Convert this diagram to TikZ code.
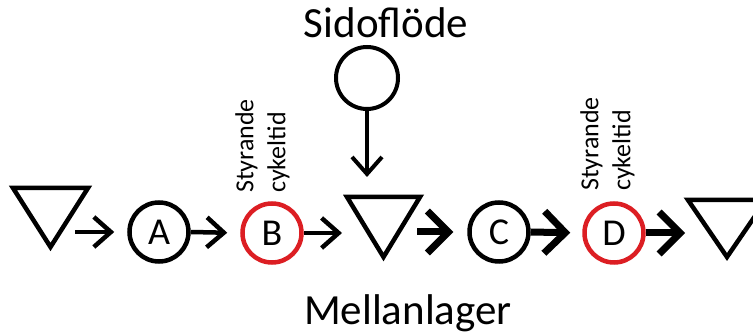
\documentclass[tikz,border=0pt]{standalone}
\usepackage{fontspec}
\setmainfont{Carlito}
\usetikzlibrary{arrows.meta,calc}
\definecolor{ringred}{RGB}{220,30,35}
\begin{document}
\begin{tikzpicture}[x=1pt,y=-1pt,
  ring/.style={circle,draw,line width=4.5pt,minimum size=59pt,inner sep=0pt,font=\fontsize{38}{38}\selectfont},
  redring/.style={ring,draw=ringred},
  tribox/.style={rectangle,inner sep=0pt,outer sep=0pt},
  triline/.style={line width=4.5pt,line join=miter},
  thinarr/.style={line width=4.5pt,arrows={-Straight Barb[length=17pt,width=30pt,line width=4.5pt]}},
  thickarr/.style={line width=7pt,arrows={-Straight Barb[length=21pt,width=42pt,line width=7pt]}},
  downarr/.style={line width=3.5pt,arrows={-Straight Barb[length=17pt,width=30pt,line width=4pt]}},
  vlabel/.style={rotate=90,anchor=north west,align=left,inner sep=0pt,font=\fontsize{26}{32}\selectfont},
  bigtext/.style={anchor=base,inner sep=0pt,font=\fontsize{43}{43}\selectfont}
]
\useasboundingbox (0,0) rectangle (753,336);

% circles
\node[ring] (A) at (159,232) {A};
\node[redring] (B) at (272,233) {B};
\node[ring] (C) at (499,232) {C};
\node[redring] (D) at (614,233) {D};
\node[ring,line width=4pt,minimum size=62pt] (S) at (367,78) {};

% triangles (inventories)
\node[tribox,minimum width=75pt,minimum height=59pt] (t1) at (50.5,217.5) {};
\node[tribox,minimum width=73pt,minimum height=60pt] (t2) at (383.5,227) {};
\node[tribox,minimum width=78pt,minimum height=57pt] (t3) at (727,228.5) {};
\draw[triline] (t1.north west) -- (t1.north east) -- (t1.south) -- cycle;
\draw[triline] (t2.north west) -- (t2.north east) -- (t2.south) -- cycle;
\draw[triline] (t3.north west) -- (t3.north east) -- (t3.south) -- cycle;

% connectors
\coordinate (p1) at ($(t1.east |- A.west)+(-13,0)$);
\draw[thinarr,shorten >=13pt] (p1) -- (A.west);
\draw[thinarr,shorten >=13pt] (A.east) -- (B.west);
\draw[thinarr,shorten >=5pt] (B.east) -- (B.east -| t2.west);
\coordinate (p4) at ($(t2.east |- C.west)+(-3,0)$);
\draw[thickarr,shorten >=14pt] (p4) -- (C.west);
\draw[thickarr,shorten >=12pt] (C.east) -- (D.west);
\draw[thickarr,shorten >=3pt] (D.east) -- (D.east -| t3.west);
\draw[downarr,shorten >=20pt] (S.south) -- (S.south |- t2.north);

% texts
\node[bigtext] (side) at (386,38) {Sidoflöde};
\node[bigtext] (mell) at (408,325) {Mellanlager};
\node[vlabel] (lb) at (235,193) {Styrande\\cykeltid};
\node[vlabel] (ld) at (580,191) {Styrande\\cykeltid};
\end{tikzpicture}
\end{document}
